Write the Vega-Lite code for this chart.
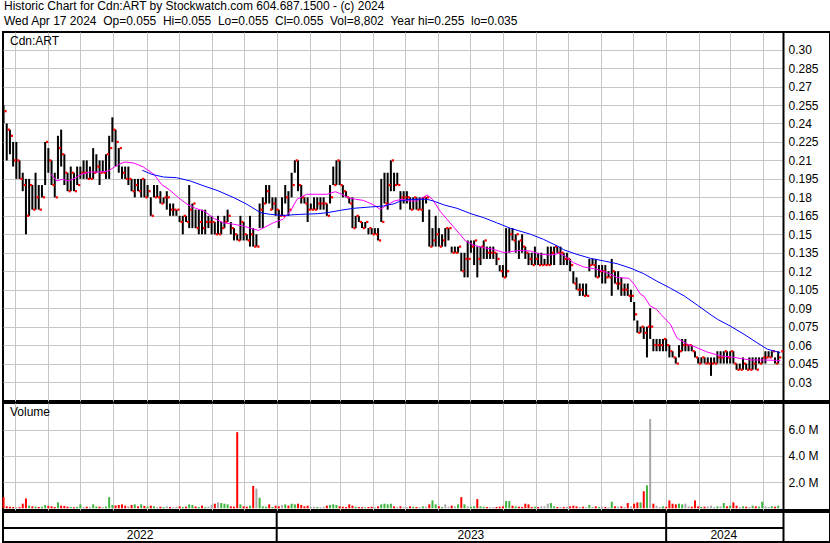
{
"$schema":"https://vega.github.io/schema/vega-lite/v6.json",
"padding":{"left":1,"top":0,"right":0,"bottom":0},
"background":"#ffffff",
"config":{"font":"Liberation Sans","view":{"stroke":"#000","strokeWidth":2},
"axis":{"gridColor":"#c6c6c6","gridWidth":1,"gridOpacity":1,"labelFont":"Liberation Sans","labelFontSize":12,"labelColor":"#000","minExtent":0},
"title":{"font":"Liberation Sans","fontSize":12,"fontWeight":"normal","color":"#000"}},
"title":{"text":["Historic Chart for Cdn:ART by Stockwatch.com 604.687.1500 - (c) 2024","Wed Apr 17 2024\u00a0\u00a0Op=0.055\u00a0\u00a0Hi=0.055\u00a0\u00a0Lo=0.055\u00a0\u00a0Cl=0.055\u00a0\u00a0Vol=8,802\u00a0\u00a0Year hi=0.255\u00a0\u00a0lo=0.035"],"anchor":"start","frame":"group","lineHeight":15,"offset":3,"dx":1},
"spacing":2,
"bounds":"flush",
"resolve":{"scale":{"color":"independent"}},
"datasets":{
"px":[
{"d":"2022-04-20","h":0.255,"l":0.24,"c":0.25,"v":850,"t":"d"},
{"d":"2022-04-23","h":0.24,"l":0.21,"c":0.235,"v":150,"t":"d"},
{"d":"2022-04-26","h":0.235,"l":0.215,"c":0.23,"v":120,"t":"d"},
{"d":"2022-04-29","h":0.225,"l":0.205,"c":0.21,"v":100,"t":"d"},
{"d":"2022-05-02","h":0.225,"l":0.195,"c":0.21,"v":80,"t":"n"},
{"d":"2022-05-05","h":0.21,"l":0.195,"c":0.195,"v":90,"t":"d"},
{"d":"2022-05-08","h":0.2,"l":0.185,"c":0.19,"v":350,"t":"d"},
{"d":"2022-05-11","h":0.195,"l":0.15,"c":0.165,"v":750,"t":"d"},
{"d":"2022-05-14","h":0.195,"l":0.165,"c":0.19,"v":200,"t":"u"},
{"d":"2022-05-17","h":0.19,"l":0.17,"c":0.17,"v":150,"t":"d"},
{"d":"2022-05-20","h":0.2,"l":0.17,"c":0.18,"v":130,"t":"u"},
{"d":"2022-05-23","h":0.19,"l":0.17,"c":0.17,"v":100,"t":"d"},
{"d":"2022-05-26","h":0.19,"l":0.18,"c":0.18,"v":120,"t":"u"},
{"d":"2022-05-29","h":0.225,"l":0.19,"c":0.225,"v":250,"t":"u"},
{"d":"2022-06-01","h":0.22,"l":0.2,"c":0.21,"v":180,"t":"d"},
{"d":"2022-06-04","h":0.21,"l":0.19,"c":0.19,"v":150,"t":"d"},
{"d":"2022-06-07","h":0.2,"l":0.18,"c":0.18,"v":100,"t":"d"},
{"d":"2022-06-10","h":0.23,"l":0.195,"c":0.22,"v":450,"t":"u"},
{"d":"2022-06-13","h":0.235,"l":0.205,"c":0.215,"v":200,"t":"d"},
{"d":"2022-06-16","h":0.215,"l":0.19,"c":0.2,"v":180,"t":"d"},
{"d":"2022-06-19","h":0.2,"l":0.185,"c":0.185,"v":120,"t":"d"},
{"d":"2022-06-22","h":0.205,"l":0.185,"c":0.2,"v":90,"t":"u"},
{"d":"2022-06-25","h":0.2,"l":0.185,"c":0.185,"v":80,"t":"d"},
{"d":"2022-06-28","h":0.205,"l":0.19,"c":0.19,"v":110,"t":"u"},
{"d":"2022-07-01","h":0.205,"l":0.195,"c":0.2,"v":300,"t":"u"},
{"d":"2022-07-04","h":0.21,"l":0.195,"c":0.2,"v":100,"t":"n"},
{"d":"2022-07-07","h":0.21,"l":0.195,"c":0.195,"v":120,"t":"d"},
{"d":"2022-07-10","h":0.205,"l":0.195,"c":0.195,"v":90,"t":"n"},
{"d":"2022-07-13","h":0.22,"l":0.195,"c":0.2,"v":300,"t":"u"},
{"d":"2022-07-16","h":0.215,"l":0.2,"c":0.205,"v":140,"t":"u"},
{"d":"2022-07-19","h":0.21,"l":0.19,"c":0.2,"v":120,"t":"d"},
{"d":"2022-07-22","h":0.21,"l":0.2,"c":0.2,"v":100,"t":"n"},
{"d":"2022-07-25","h":0.215,"l":0.195,"c":0.215,"v":130,"t":"u"},
{"d":"2022-07-28","h":0.23,"l":0.195,"c":0.22,"v":850,"t":"u"},
{"d":"2022-07-31","h":0.245,"l":0.225,"c":0.235,"v":250,"t":"u"},
{"d":"2022-08-03","h":0.235,"l":0.205,"c":0.225,"v":220,"t":"d"},
{"d":"2022-08-06","h":0.22,"l":0.2,"c":0.22,"v":250,"t":"d"},
{"d":"2022-08-09","h":0.205,"l":0.195,"c":0.2,"v":300,"t":"d"},
{"d":"2022-08-12","h":0.205,"l":0.195,"c":0.195,"v":200,"t":"d"},
{"d":"2022-08-15","h":0.205,"l":0.19,"c":0.195,"v":150,"t":"n"},
{"d":"2022-08-18","h":0.195,"l":0.185,"c":0.185,"v":250,"t":"d"},
{"d":"2022-08-21","h":0.195,"l":0.18,"c":0.19,"v":300,"t":"u"},
{"d":"2022-08-24","h":0.195,"l":0.185,"c":0.185,"v":150,"t":"d"},
{"d":"2022-08-27","h":0.195,"l":0.18,"c":0.195,"v":300,"t":"u"},
{"d":"2022-08-30","h":0.195,"l":0.18,"c":0.18,"v":180,"t":"d"},
{"d":"2022-09-02","h":0.19,"l":0.18,"c":0.185,"v":120,"t":"u"},
{"d":"2022-09-05","h":0.18,"l":0.165,"c":0.165,"v":200,"t":"d"},
{"d":"2022-09-08","h":0.19,"l":0.18,"c":0.18,"v":150,"t":"u"},
{"d":"2022-09-11","h":0.19,"l":0.18,"c":0.18,"v":100,"t":"n"},
{"d":"2022-09-14","h":0.185,"l":0.175,"c":0.175,"v":120,"t":"d"},
{"d":"2022-09-17","h":0.18,"l":0.175,"c":0.18,"v":90,"t":"u"},
{"d":"2022-09-20","h":0.185,"l":0.17,"c":0.18,"v":150,"t":"n"},
{"d":"2022-09-23","h":0.175,"l":0.165,"c":0.17,"v":100,"t":"d"},
{"d":"2022-09-26","h":0.175,"l":0.165,"c":0.17,"v":80,"t":"n"},
{"d":"2022-09-29","h":0.17,"l":0.165,"c":0.17,"v":120,"t":"n"},
{"d":"2022-10-02","h":0.165,"l":0.16,"c":0.16,"v":150,"t":"d"},
{"d":"2022-10-05","h":0.165,"l":0.15,"c":0.165,"v":100,"t":"u"},
{"d":"2022-10-08","h":0.165,"l":0.16,"c":0.16,"v":120,"t":"d"},
{"d":"2022-10-11","h":0.19,"l":0.155,"c":0.17,"v":300,"t":"u"},
{"d":"2022-10-14","h":0.175,"l":0.155,"c":0.175,"v":250,"t":"u"},
{"d":"2022-10-17","h":0.17,"l":0.155,"c":0.155,"v":140,"t":"d"},
{"d":"2022-10-20","h":0.17,"l":0.15,"c":0.16,"v":100,"t":"u"},
{"d":"2022-10-23","h":0.17,"l":0.15,"c":0.155,"v":200,"t":"d"},
{"d":"2022-10-26","h":0.17,"l":0.15,"c":0.16,"v":90,"t":"u"},
{"d":"2022-10-29","h":0.165,"l":0.155,"c":0.16,"v":120,"t":"n"},
{"d":"2022-11-01","h":0.165,"l":0.15,"c":0.16,"v":250,"t":"n"},
{"d":"2022-11-04","h":0.16,"l":0.15,"c":0.15,"v":350,"t":"d"},
{"d":"2022-11-07","h":0.165,"l":0.15,"c":0.15,"v":450,"t":"n"},
{"d":"2022-11-10","h":0.16,"l":0.15,"c":0.155,"v":400,"t":"u"},
{"d":"2022-11-13","h":0.165,"l":0.155,"c":0.16,"v":350,"t":"u"},
{"d":"2022-11-16","h":0.17,"l":0.16,"c":0.165,"v":300,"t":"u"},
{"d":"2022-11-19","h":0.16,"l":0.15,"c":0.155,"v":150,"t":"d"},
{"d":"2022-11-22","h":0.155,"l":0.145,"c":0.15,"v":120,"t":"d"},
{"d":"2022-11-25","h":0.15,"l":0.145,"c":0.145,"v":5800,"t":"d"},
{"d":"2022-11-28","h":0.165,"l":0.145,"c":0.16,"v":300,"t":"u"},
{"d":"2022-12-01","h":0.16,"l":0.145,"c":0.15,"v":150,"t":"d"},
{"d":"2022-12-04","h":0.15,"l":0.145,"c":0.145,"v":120,"t":"d"},
{"d":"2022-12-07","h":0.165,"l":0.14,"c":0.15,"v":200,"t":"u"},
{"d":"2022-12-10","h":0.155,"l":0.14,"c":0.14,"v":1700,"t":"d"},
{"d":"2022-12-13","h":0.15,"l":0.14,"c":0.14,"v":1500,"t":"n"},
{"d":"2022-12-16","h":0.175,"l":0.155,"c":0.17,"v":800,"t":"u"},
{"d":"2022-12-19","h":0.18,"l":0.155,"c":0.175,"v":150,"t":"u"},
{"d":"2022-12-22","h":0.19,"l":0.175,"c":0.185,"v":120,"t":"u"},
{"d":"2022-12-25","h":0.19,"l":0.175,"c":0.17,"v":300,"t":"d"},
{"d":"2022-12-28","h":0.18,"l":0.17,"c":0.175,"v":100,"t":"u"},
{"d":"2022-12-31","h":0.18,"l":0.165,"c":0.17,"v":200,"t":"d"},
{"d":"2023-01-03","h":0.17,"l":0.155,"c":0.165,"v":150,"t":"d"},
{"d":"2023-01-06","h":0.18,"l":0.165,"c":0.165,"v":250,"t":"n"},
{"d":"2023-01-09","h":0.19,"l":0.175,"c":0.18,"v":300,"t":"u"},
{"d":"2023-01-12","h":0.185,"l":0.165,"c":0.17,"v":200,"t":"d"},
{"d":"2023-01-15","h":0.2,"l":0.18,"c":0.19,"v":350,"t":"u"},
{"d":"2023-01-18","h":0.21,"l":0.2,"c":0.21,"v":300,"t":"u"},
{"d":"2023-01-21","h":0.21,"l":0.185,"c":0.19,"v":350,"t":"d"},
{"d":"2023-01-24","h":0.19,"l":0.175,"c":0.18,"v":250,"t":"d"},
{"d":"2023-01-27","h":0.18,"l":0.175,"c":0.175,"v":150,"t":"d"},
{"d":"2023-01-30","h":0.18,"l":0.16,"c":0.17,"v":200,"t":"d"},
{"d":"2023-02-02","h":0.175,"l":0.17,"c":0.17,"v":100,"t":"n"},
{"d":"2023-02-05","h":0.18,"l":0.17,"c":0.17,"v":120,"t":"n"},
{"d":"2023-02-08","h":0.18,"l":0.17,"c":0.175,"v":100,"t":"u"},
{"d":"2023-02-11","h":0.18,"l":0.17,"c":0.175,"v":90,"t":"n"},
{"d":"2023-02-14","h":0.18,"l":0.17,"c":0.175,"v":110,"t":"n"},
{"d":"2023-02-17","h":0.175,"l":0.165,"c":0.165,"v":200,"t":"d"},
{"d":"2023-02-20","h":0.19,"l":0.175,"c":0.18,"v":250,"t":"u"},
{"d":"2023-02-23","h":0.205,"l":0.19,"c":0.19,"v":300,"t":"u"},
{"d":"2023-02-26","h":0.21,"l":0.19,"c":0.21,"v":250,"t":"u"},
{"d":"2023-03-01","h":0.21,"l":0.19,"c":0.19,"v":150,"t":"d"},
{"d":"2023-03-04","h":0.19,"l":0.18,"c":0.185,"v":120,"t":"d"},
{"d":"2023-03-07","h":0.185,"l":0.18,"c":0.18,"v":100,"t":"d"},
{"d":"2023-03-10","h":0.18,"l":0.175,"c":0.175,"v":300,"t":"d"},
{"d":"2023-03-13","h":0.18,"l":0.155,"c":0.155,"v":200,"t":"d"},
{"d":"2023-03-16","h":0.165,"l":0.155,"c":0.165,"v":120,"t":"u"},
{"d":"2023-03-19","h":0.165,"l":0.16,"c":0.16,"v":100,"t":"d"},
{"d":"2023-03-22","h":0.16,"l":0.155,"c":0.155,"v":90,"t":"d"},
{"d":"2023-03-25","h":0.16,"l":0.155,"c":0.16,"v":80,"t":"u"},
{"d":"2023-03-28","h":0.155,"l":0.15,"c":0.155,"v":100,"t":"d"},
{"d":"2023-03-31","h":0.155,"l":0.15,"c":0.15,"v":120,"t":"d"},
{"d":"2023-04-03","h":0.155,"l":0.15,"c":0.15,"v":90,"t":"n"},
{"d":"2023-04-06","h":0.155,"l":0.145,"c":0.145,"v":150,"t":"d"},
{"d":"2023-04-09","h":0.195,"l":0.16,"c":0.16,"v":300,"t":"u"},
{"d":"2023-04-12","h":0.2,"l":0.175,"c":0.175,"v":350,"t":"u"},
{"d":"2023-04-15","h":0.2,"l":0.17,"c":0.19,"v":300,"t":"u"},
{"d":"2023-04-18","h":0.21,"l":0.185,"c":0.21,"v":350,"t":"u"},
{"d":"2023-04-21","h":0.2,"l":0.185,"c":0.19,"v":150,"t":"d"},
{"d":"2023-04-24","h":0.2,"l":0.19,"c":0.19,"v":100,"t":"n"},
{"d":"2023-04-27","h":0.185,"l":0.17,"c":0.18,"v":150,"t":"d"},
{"d":"2023-04-30","h":0.185,"l":0.175,"c":0.18,"v":80,"t":"n"},
{"d":"2023-05-03","h":0.185,"l":0.175,"c":0.18,"v":100,"t":"n"},
{"d":"2023-05-06","h":0.18,"l":0.17,"c":0.17,"v":150,"t":"d"},
{"d":"2023-05-09","h":0.18,"l":0.17,"c":0.18,"v":120,"t":"u"},
{"d":"2023-05-12","h":0.18,"l":0.17,"c":0.17,"v":100,"t":"d"},
{"d":"2023-05-15","h":0.18,"l":0.17,"c":0.17,"v":80,"t":"n"},
{"d":"2023-05-18","h":0.18,"l":0.16,"c":0.18,"v":150,"t":"u"},
{"d":"2023-05-21","h":0.18,"l":0.175,"c":0.18,"v":120,"t":"n"},
{"d":"2023-05-24","h":0.17,"l":0.14,"c":0.14,"v":300,"t":"d"},
{"d":"2023-05-27","h":0.155,"l":0.14,"c":0.145,"v":600,"t":"u"},
{"d":"2023-05-30","h":0.165,"l":0.14,"c":0.15,"v":300,"t":"u"},
{"d":"2023-06-02","h":0.155,"l":0.14,"c":0.14,"v":150,"t":"d"},
{"d":"2023-06-05","h":0.15,"l":0.14,"c":0.145,"v":100,"t":"u"},
{"d":"2023-06-08","h":0.155,"l":0.14,"c":0.155,"v":300,"t":"n"},
{"d":"2023-06-11","h":0.155,"l":0.145,"c":0.155,"v":120,"t":"n"},
{"d":"2023-06-14","h":0.14,"l":0.135,"c":0.135,"v":200,"t":"d"},
{"d":"2023-06-17","h":0.14,"l":0.135,"c":0.135,"v":150,"t":"n"},
{"d":"2023-06-20","h":0.14,"l":0.135,"c":0.14,"v":300,"t":"u"},
{"d":"2023-06-23","h":0.135,"l":0.12,"c":0.12,"v":850,"t":"d"},
{"d":"2023-06-26","h":0.135,"l":0.115,"c":0.13,"v":300,"t":"u"},
{"d":"2023-06-29","h":0.145,"l":0.115,"c":0.13,"v":150,"t":"n"},
{"d":"2023-07-02","h":0.145,"l":0.135,"c":0.14,"v":120,"t":"u"},
{"d":"2023-07-05","h":0.145,"l":0.125,"c":0.145,"v":150,"t":"u"},
{"d":"2023-07-08","h":0.14,"l":0.115,"c":0.13,"v":700,"t":"d"},
{"d":"2023-07-11","h":0.14,"l":0.125,"c":0.14,"v":150,"t":"u"},
{"d":"2023-07-14","h":0.145,"l":0.13,"c":0.145,"v":120,"t":"u"},
{"d":"2023-07-17","h":0.14,"l":0.13,"c":0.135,"v":100,"t":"d"},
{"d":"2023-07-20","h":0.14,"l":0.13,"c":0.135,"v":90,"t":"n"},
{"d":"2023-07-23","h":0.14,"l":0.13,"c":0.135,"v":80,"t":"n"},
{"d":"2023-07-26","h":0.135,"l":0.125,"c":0.13,"v":100,"t":"d"},
{"d":"2023-07-29","h":0.125,"l":0.12,"c":0.12,"v":120,"t":"d"},
{"d":"2023-08-01","h":0.125,"l":0.115,"c":0.115,"v":150,"t":"d"},
{"d":"2023-08-04","h":0.155,"l":0.115,"c":0.12,"v":550,"t":"u"},
{"d":"2023-08-07","h":0.155,"l":0.135,"c":0.15,"v":550,"t":"u"},
{"d":"2023-08-10","h":0.155,"l":0.145,"c":0.145,"v":200,"t":"d"},
{"d":"2023-08-13","h":0.15,"l":0.135,"c":0.15,"v":150,"t":"u"},
{"d":"2023-08-16","h":0.145,"l":0.13,"c":0.145,"v":120,"t":"d"},
{"d":"2023-08-19","h":0.15,"l":0.135,"c":0.14,"v":100,"t":"d"},
{"d":"2023-08-22","h":0.14,"l":0.13,"c":0.135,"v":350,"t":"d"},
{"d":"2023-08-25","h":0.135,"l":0.125,"c":0.13,"v":300,"t":"d"},
{"d":"2023-08-28","h":0.135,"l":0.125,"c":0.125,"v":100,"t":"d"},
{"d":"2023-08-31","h":0.14,"l":0.125,"c":0.13,"v":120,"t":"u"},
{"d":"2023-09-03","h":0.135,"l":0.125,"c":0.125,"v":100,"t":"d"},
{"d":"2023-09-06","h":0.135,"l":0.125,"c":0.125,"v":150,"t":"n"},
{"d":"2023-09-09","h":0.13,"l":0.125,"c":0.125,"v":150,"t":"n"},
{"d":"2023-09-12","h":0.14,"l":0.125,"c":0.125,"v":350,"t":"n"},
{"d":"2023-09-15","h":0.14,"l":0.125,"c":0.135,"v":400,"t":"u"},
{"d":"2023-09-18","h":0.14,"l":0.125,"c":0.14,"v":150,"t":"u"},
{"d":"2023-09-21","h":0.14,"l":0.135,"c":0.135,"v":100,"t":"d"},
{"d":"2023-09-24","h":0.14,"l":0.125,"c":0.135,"v":90,"t":"n"},
{"d":"2023-09-27","h":0.135,"l":0.125,"c":0.13,"v":100,"t":"d"},
{"d":"2023-09-30","h":0.135,"l":0.125,"c":0.13,"v":120,"t":"n"},
{"d":"2023-10-03","h":0.13,"l":0.12,"c":0.125,"v":150,"t":"d"},
{"d":"2023-10-06","h":0.12,"l":0.11,"c":0.11,"v":200,"t":"d"},
{"d":"2023-10-09","h":0.115,"l":0.105,"c":0.105,"v":150,"t":"d"},
{"d":"2023-10-12","h":0.11,"l":0.1,"c":0.105,"v":100,"t":"n"},
{"d":"2023-10-15","h":0.11,"l":0.1,"c":0.1,"v":120,"t":"d"},
{"d":"2023-10-18","h":0.11,"l":0.1,"c":0.1,"v":80,"t":"n"},
{"d":"2023-10-21","h":0.13,"l":0.12,"c":0.125,"v":250,"t":"u"},
{"d":"2023-10-24","h":0.13,"l":0.125,"c":0.125,"v":100,"t":"n"},
{"d":"2023-10-27","h":0.13,"l":0.115,"c":0.115,"v":150,"t":"d"},
{"d":"2023-10-30","h":0.125,"l":0.115,"c":0.12,"v":100,"t":"u"},
{"d":"2023-11-02","h":0.125,"l":0.11,"c":0.12,"v":120,"t":"n"},
{"d":"2023-11-05","h":0.125,"l":0.11,"c":0.115,"v":100,"t":"d"},
{"d":"2023-11-08","h":0.12,"l":0.115,"c":0.115,"v":80,"t":"n"},
{"d":"2023-11-11","h":0.13,"l":0.1,"c":0.12,"v":500,"t":"u"},
{"d":"2023-11-14","h":0.12,"l":0.11,"c":0.11,"v":150,"t":"d"},
{"d":"2023-11-17","h":0.12,"l":0.105,"c":0.11,"v":120,"t":"n"},
{"d":"2023-11-20","h":0.115,"l":0.1,"c":0.105,"v":150,"t":"d"},
{"d":"2023-11-23","h":0.11,"l":0.1,"c":0.105,"v":100,"t":"n"},
{"d":"2023-11-26","h":0.11,"l":0.1,"c":0.1,"v":400,"t":"d"},
{"d":"2023-11-29","h":0.105,"l":0.095,"c":0.1,"v":150,"t":"n"},
{"d":"2023-12-02","h":0.095,"l":0.08,"c":0.085,"v":350,"t":"d"},
{"d":"2023-12-05","h":0.08,"l":0.07,"c":0.07,"v":450,"t":"d"},
{"d":"2023-12-08","h":0.075,"l":0.07,"c":0.075,"v":450,"t":"u"},
{"d":"2023-12-11","h":0.075,"l":0.065,"c":0.07,"v":1300,"t":"d"},
{"d":"2023-12-14","h":0.075,"l":0.05,"c":0.075,"v":1750,"t":"u"},
{"d":"2023-12-17","h":0.09,"l":0.065,"c":0.075,"v":6800,"t":"n"},
{"d":"2023-12-20","h":0.065,"l":0.055,"c":0.06,"v":350,"t":"d"},
{"d":"2023-12-23","h":0.065,"l":0.055,"c":0.06,"v":200,"t":"n"},
{"d":"2023-12-26","h":0.065,"l":0.055,"c":0.06,"v":100,"t":"n"},
{"d":"2023-12-29","h":0.065,"l":0.055,"c":0.065,"v":150,"t":"u"},
{"d":"2024-01-01","h":0.065,"l":0.055,"c":0.06,"v":120,"t":"d"},
{"d":"2024-01-04","h":0.06,"l":0.05,"c":0.055,"v":600,"t":"d"},
{"d":"2024-01-07","h":0.055,"l":0.05,"c":0.05,"v":350,"t":"d"},
{"d":"2024-01-10","h":0.05,"l":0.045,"c":0.045,"v":300,"t":"d"},
{"d":"2024-01-13","h":0.06,"l":0.05,"c":0.055,"v":350,"t":"u"},
{"d":"2024-01-16","h":0.065,"l":0.055,"c":0.06,"v":300,"t":"u"},
{"d":"2024-01-19","h":0.065,"l":0.055,"c":0.06,"v":350,"t":"n"},
{"d":"2024-01-22","h":0.06,"l":0.055,"c":0.06,"v":150,"t":"n"},
{"d":"2024-01-25","h":0.06,"l":0.055,"c":0.055,"v":120,"t":"d"},
{"d":"2024-01-28","h":0.055,"l":0.05,"c":0.05,"v":600,"t":"d"},
{"d":"2024-01-31","h":0.05,"l":0.045,"c":0.045,"v":150,"t":"d"},
{"d":"2024-02-03","h":0.05,"l":0.045,"c":0.05,"v":100,"t":"u"},
{"d":"2024-02-06","h":0.05,"l":0.045,"c":0.045,"v":120,"t":"d"},
{"d":"2024-02-09","h":0.05,"l":0.045,"c":0.045,"v":150,"t":"n"},
{"d":"2024-02-12","h":0.05,"l":0.035,"c":0.045,"v":200,"t":"n"},
{"d":"2024-02-15","h":0.05,"l":0.045,"c":0.045,"v":100,"t":"n"},
{"d":"2024-02-18","h":0.055,"l":0.045,"c":0.05,"v":150,"t":"u"},
{"d":"2024-02-21","h":0.055,"l":0.045,"c":0.05,"v":150,"t":"n"},
{"d":"2024-02-24","h":0.055,"l":0.045,"c":0.055,"v":400,"t":"u"},
{"d":"2024-02-27","h":0.055,"l":0.045,"c":0.05,"v":150,"t":"d"},
{"d":"2024-03-01","h":0.055,"l":0.045,"c":0.055,"v":200,"t":"u"},
{"d":"2024-03-04","h":0.055,"l":0.045,"c":0.045,"v":450,"t":"d"},
{"d":"2024-03-07","h":0.045,"l":0.04,"c":0.04,"v":200,"t":"d"},
{"d":"2024-03-10","h":0.045,"l":0.04,"c":0.04,"v":100,"t":"n"},
{"d":"2024-03-13","h":0.05,"l":0.04,"c":0.045,"v":150,"t":"u"},
{"d":"2024-03-16","h":0.045,"l":0.04,"c":0.04,"v":120,"t":"d"},
{"d":"2024-03-19","h":0.05,"l":0.04,"c":0.04,"v":100,"t":"n"},
{"d":"2024-03-22","h":0.05,"l":0.04,"c":0.045,"v":200,"t":"u"},
{"d":"2024-03-25","h":0.05,"l":0.04,"c":0.04,"v":150,"t":"d"},
{"d":"2024-03-28","h":0.05,"l":0.045,"c":0.045,"v":120,"t":"u"},
{"d":"2024-03-31","h":0.05,"l":0.045,"c":0.05,"v":500,"t":"u"},
{"d":"2024-04-03","h":0.055,"l":0.045,"c":0.05,"v":150,"t":"n"},
{"d":"2024-04-06","h":0.055,"l":0.05,"c":0.05,"v":100,"t":"n"},
{"d":"2024-04-09","h":0.055,"l":0.05,"c":0.055,"v":150,"t":"u"},
{"d":"2024-04-12","h":0.05,"l":0.045,"c":0.045,"v":120,"t":"d"},
{"d":"2024-04-15","h":0.055,"l":0.045,"c":0.05,"v":200,"t":"u"},
{"d":"2024-04-17","h":0.055,"l":0.055,"c":0.055,"v":9,"t":"u"}
],
"ma":[
{"d":"2022-06-03","m":0.1992,"s":"a"},{"d":"2022-06-09","m":0.1933,"s":"a"},{"d":"2022-06-14","m":0.1947,"s":"a"},{"d":"2022-06-20","m":0.1933,"s":"a"},{"d":"2022-06-26","m":0.1955,"s":"a"},{"d":"2022-07-02","m":0.1987,"s":"a"},{"d":"2022-07-10","m":0.2006,"s":"a"},{"d":"2022-07-20","m":0.2006,"s":"a"},{"d":"2022-07-27","m":0.2014,"s":"a"},{"d":"2022-08-06","m":0.2068,"s":"a"},{"d":"2022-08-12","m":0.2087,"s":"a"},{"d":"2022-08-20","m":0.2079,"s":"a"},{"d":"2022-08-29","m":0.2047,"s":"a"},{"d":"2022-09-08","m":0.1987,"s":"a"},{"d":"2022-09-15","m":0.1906,"s":"a"},{"d":"2022-09-23","m":0.1857,"s":"a"},{"d":"2022-10-01","m":0.1797,"s":"a"},{"d":"2022-10-09","m":0.1744,"s":"a"},{"d":"2022-10-17","m":0.1711,"s":"a"},{"d":"2022-10-25","m":0.1689,"s":"a"},{"d":"2022-11-03","m":0.163,"s":"a"},{"d":"2022-11-12","m":0.1594,"s":"a"},{"d":"2022-11-22","m":0.1581,"s":"a"},{"d":"2022-12-01","m":0.1567,"s":"a"},{"d":"2022-12-09","m":0.1545,"s":"a"},{"d":"2022-12-15","m":0.1532,"s":"a"},{"d":"2022-12-23","m":0.1567,"s":"a"},{"d":"2022-12-29","m":0.1594,"s":"a"},{"d":"2023-01-07","m":0.1622,"s":"a"},{"d":"2023-01-14","m":0.1689,"s":"a"},{"d":"2023-01-20","m":0.1784,"s":"a"},{"d":"2023-01-29","m":0.1825,"s":"a"},{"d":"2023-02-08","m":0.1825,"s":"a"},{"d":"2023-02-17","m":0.1825,"s":"a"},{"d":"2023-02-25","m":0.1846,"s":"a"},{"d":"2023-03-03","m":0.1825,"s":"a"},{"d":"2023-03-09","m":0.1797,"s":"a"},{"d":"2023-03-16","m":0.1784,"s":"a"},{"d":"2023-03-23","m":0.1776,"s":"a"},{"d":"2023-04-02","m":0.1738,"s":"a"},{"d":"2023-04-08","m":0.1703,"s":"a"},{"d":"2023-04-13","m":0.173,"s":"a"},{"d":"2023-04-21","m":0.177,"s":"a"},{"d":"2023-04-28","m":0.1784,"s":"a"},{"d":"2023-05-06","m":0.177,"s":"a"},{"d":"2023-05-12","m":0.177,"s":"a"},{"d":"2023-05-19","m":0.1803,"s":"a"},{"d":"2023-05-22","m":0.1819,"s":"a"},{"d":"2023-05-27","m":0.1784,"s":"a"},{"d":"2023-06-03","m":0.1689,"s":"a"},{"d":"2023-06-11","m":0.1608,"s":"a"},{"d":"2023-06-19","m":0.1527,"s":"a"},{"d":"2023-06-27","m":0.1446,"s":"a"},{"d":"2023-07-05","m":0.1411,"s":"a"},{"d":"2023-07-14","m":0.1391,"s":"a"},{"d":"2023-07-23","m":0.1378,"s":"a"},{"d":"2023-08-02","m":0.1351,"s":"a"},{"d":"2023-08-08","m":0.1359,"s":"a"},{"d":"2023-08-17","m":0.137,"s":"a"},{"d":"2023-08-27","m":0.1364,"s":"a"},{"d":"2023-09-05","m":0.1338,"s":"a"},{"d":"2023-09-15","m":0.1332,"s":"a"},{"d":"2023-09-23","m":0.1345,"s":"a"},{"d":"2023-09-28","m":0.1324,"s":"a"},{"d":"2023-10-06","m":0.1269,"s":"a"},{"d":"2023-10-16","m":0.1234,"s":"a"},{"d":"2023-10-28","m":0.1216,"s":"a"},{"d":"2023-11-07","m":0.1188,"s":"a"},{"d":"2023-11-16","m":0.1148,"s":"a"},{"d":"2023-11-27","m":0.1143,"s":"a"},{"d":"2023-12-02","m":0.1094,"s":"a"},{"d":"2023-12-08","m":0.1013,"s":"a"},{"d":"2023-12-11","m":0.0999,"s":"a"},{"d":"2023-12-17","m":0.0918,"s":"a"},{"d":"2023-12-23","m":0.0891,"s":"a"},{"d":"2023-12-27","m":0.085,"s":"a"},{"d":"2024-01-02","m":0.0796,"s":"a"},{"d":"2024-01-05","m":0.0769,"s":"a"},{"d":"2024-01-11","m":0.066,"s":"a"},{"d":"2024-01-13","m":0.0647,"s":"a"},{"d":"2024-01-21","m":0.0607,"s":"a"},{"d":"2024-01-30","m":0.0579,"s":"a"},{"d":"2024-02-08","m":0.0545,"s":"a"},{"d":"2024-02-21","m":0.0512,"s":"a"},{"d":"2024-03-04","m":0.0501,"s":"a"},{"d":"2024-03-20","m":0.0479,"s":"a"},{"d":"2024-04-02","m":0.0479,"s":"a"},{"d":"2024-04-17","m":0.0475,"s":"a"},
{"d":"2022-08-28","m":0.202,"s":"b"},{"d":"2022-09-06","m":0.1987,"s":"b"},{"d":"2022-09-17","m":0.1965,"s":"b"},{"d":"2022-09-29","m":0.196,"s":"b"},{"d":"2022-10-12","m":0.1933,"s":"b"},{"d":"2022-10-25","m":0.1892,"s":"b"},{"d":"2022-11-06","m":0.1857,"s":"b"},{"d":"2022-11-22","m":0.1797,"s":"b"},{"d":"2022-12-04","m":0.1744,"s":"b"},{"d":"2022-12-17","m":0.1675,"s":"b"},{"d":"2022-12-26","m":0.1662,"s":"b"},{"d":"2023-01-07","m":0.1653,"s":"b"},{"d":"2023-01-23","m":0.1662,"s":"b"},{"d":"2023-02-08","m":0.1667,"s":"b"},{"d":"2023-02-17","m":0.1675,"s":"b"},{"d":"2023-03-02","m":0.1695,"s":"b"},{"d":"2023-03-14","m":0.1711,"s":"b"},{"d":"2023-03-30","m":0.1722,"s":"b"},{"d":"2023-04-11","m":0.173,"s":"b"},{"d":"2023-04-21","m":0.1748,"s":"b"},{"d":"2023-04-27","m":0.177,"s":"b"},{"d":"2023-05-06","m":0.1784,"s":"b"},{"d":"2023-05-22","m":0.1784,"s":"b"},{"d":"2023-05-28","m":0.177,"s":"b"},{"d":"2023-06-07","m":0.1738,"s":"b"},{"d":"2023-06-19","m":0.1711,"s":"b"},{"d":"2023-07-02","m":0.1667,"s":"b"},{"d":"2023-07-14","m":0.1635,"s":"b"},{"d":"2023-07-26","m":0.1594,"s":"b"},{"d":"2023-08-08","m":0.1549,"s":"b"},{"d":"2023-08-27","m":0.15,"s":"b"},{"d":"2023-09-08","m":0.1459,"s":"b"},{"d":"2023-09-21","m":0.1405,"s":"b"},{"d":"2023-09-27","m":0.1374,"s":"b"},{"d":"2023-10-09","m":0.1338,"s":"b"},{"d":"2023-10-22","m":0.1305,"s":"b"},{"d":"2023-11-04","m":0.1283,"s":"b"},{"d":"2023-11-16","m":0.1261,"s":"b"},{"d":"2023-11-29","m":0.1224,"s":"b"},{"d":"2023-12-11","m":0.118,"s":"b"},{"d":"2023-12-23","m":0.1121,"s":"b"},{"d":"2024-01-05","m":0.1062,"s":"b"},{"d":"2024-01-18","m":0.0999,"s":"b"},{"d":"2024-01-30","m":0.0926,"s":"b"},{"d":"2024-02-12","m":0.0845,"s":"b"},{"d":"2024-02-18","m":0.081,"s":"b"},{"d":"2024-03-01","m":0.0755,"s":"b"},{"d":"2024-03-14","m":0.0688,"s":"b"},{"d":"2024-03-26","m":0.062,"s":"b"},{"d":"2024-04-05","m":0.0566,"s":"b"},{"d":"2024-04-17","m":0.0539,"s":"b"}
],
"yb":[{"b":"2023-01-01"},{"b":"2024-01-01"}],
"yl":[{"y":"2022","m":"2022-08-26"},{"y":"2023","m":"2023-07-02"},{"y":"2024","m":"2024-02-24"}]
},
"vconcat":[
{"width":827,"height":369,
"title":{"text":"Cdn:ART","anchor":"start","frame":"group","offset":-16,"dx":7},
"layer":[
{"data":{"name":"px"},"mark":{"type":"rule","color":"#000","strokeWidth":2},
"encoding":{
"x":{"field":"d","type":"temporal","scale":{"domain":[{"year":2022,"month":4,"date":19,"hours":12},{"year":2024,"month":4,"date":19,"hours":12}],"range":[0,780]},"axis":{"orient":"bottom","grid":true,"labels":false,"ticks":false,"domain":false,"title":null,"tickCount":{"interval":"month","step":1}}},
"y":{"field":"h","type":"quantitative","scale":{"domain":[0.0146,0.3143],"nice":false,"zero":false},"axis":{"orient":"left","grid":true,"labels":false,"ticks":false,"domain":false,"title":null,"values":[0.03,0.045,0.06,0.075,0.09,0.105,0.12,0.135,0.15,0.165,0.18,0.195,0.21,0.225,0.24,0.255,0.27,0.285,0.3]}},
"y2":{"field":"l"}}},
{"data":{"name":"px"},"mark":{"type":"square","size":5,"color":"#ff0000","opacity":1,"xOffset":2},
"encoding":{
"x":{"field":"d","type":"temporal"},
"y":{"field":"c","type":"quantitative","axis":{"orient":"right","offset":-47,"grid":false,"ticks":false,"domain":true,"domainColor":"#000","domainWidth":2,"labelPadding":5,"labelOverlap":false,"labelFlush":false,"title":null,"values":[0.03,0.045,0.06,0.075,0.09,0.105,0.12,0.135,0.15,0.165,0.18,0.195,0.21,0.225,0.24,0.255,0.27,0.285,0.3],"labelExpr":"round(datum.value*1000) % 10 == 0 ? format(datum.value, '.2f') : format(datum.value, '.3f')"}}}},
{"data":{"name":"ma"},"mark":{"type":"line","strokeWidth":1},
"encoding":{
"x":{"field":"d","type":"temporal"},
"y":{"field":"m","type":"quantitative","axis":null},
"color":{"field":"s","type":"nominal","scale":{"domain":["a","b"],"range":["#ff00ff","#0000ff"]},"legend":null}}}
],
"resolve":{"axis":{"y":"independent"}}},
{"width":827,"height":107,
"title":{"text":"Volume","anchor":"start","frame":"group","offset":-16,"dx":7},
"layer":[
{"data":{"name":"px"},"mark":{"type":"rule","strokeWidth":2},
"encoding":{
"x":{"field":"d","type":"temporal","scale":{"domain":[{"year":2022,"month":4,"date":19,"hours":12},{"year":2024,"month":4,"date":19,"hours":12}],"range":[0,780]},"axis":{"orient":"bottom","grid":true,"labels":false,"ticks":false,"domain":false,"title":null,"tickCount":{"interval":"month","step":1}}},
"y":{"field":"v","type":"quantitative","scale":{"domain":[-130,8020],"nice":false,"zero":false},"axis":{"orient":"left","grid":true,"labels":false,"ticks":false,"domain":false,"title":null,"values":[2000,4000,6000]}},
"y2":{"datum":0},
"color":{"field":"t","type":"nominal","scale":{"domain":["u","d","n"],"range":["#3fb43f","#ff0000","#a8a8a8"]},"legend":null}}},
{"data":{"values":[{}]},"mark":{"type":"rule","opacity":0},
"encoding":{"y":{"datum":0,"type":"quantitative","axis":{"orient":"right","offset":-47,"grid":false,"ticks":false,"domain":true,"domainColor":"#000","domainWidth":2,"labelPadding":5,"labelFlush":false,"title":null,"values":[2000,4000,6000],"labelExpr":"format(datum.value/1000, '.1f') + ' M'"}}}}
],
"resolve":{"axis":{"y":"independent"}}},
{"width":827,"height":30,
"layer":[
{"data":{"name":"yb"},"mark":{"type":"rule","color":"#000","strokeWidth":2},
"encoding":{"x":{"field":"b","type":"temporal","scale":{"domain":[{"year":2022,"month":4,"date":19,"hours":12},{"year":2024,"month":4,"date":19,"hours":12}],"range":[0,780]},"axis":null}}},
{"data":{"values":[{}]},"mark":{"type":"rule","color":"#000","strokeWidth":2},
"encoding":{"x":{"datum":{"year":2022,"month":4,"date":19,"hours":12},"type":"temporal"},"x2":{"datum":{"year":2024,"month":4,"date":19,"hours":12}},
"y":{"datum":14,"type":"quantitative","scale":{"domain":[0,30],"nice":false,"zero":false},"axis":{"orient":"right","offset":-47,"grid":false,"ticks":false,"labels":false,"domain":true,"domainColor":"#000","domainWidth":2,"title":null}}}},
{"data":{"name":"yl"},"mark":{"type":"text","fontSize":12,"baseline":"middle","align":"center","color":"#000"},
"encoding":{"x":{"field":"m","type":"temporal"},"y":{"datum":7,"type":"quantitative"},"text":{"field":"y"}}}
]}
]
}
